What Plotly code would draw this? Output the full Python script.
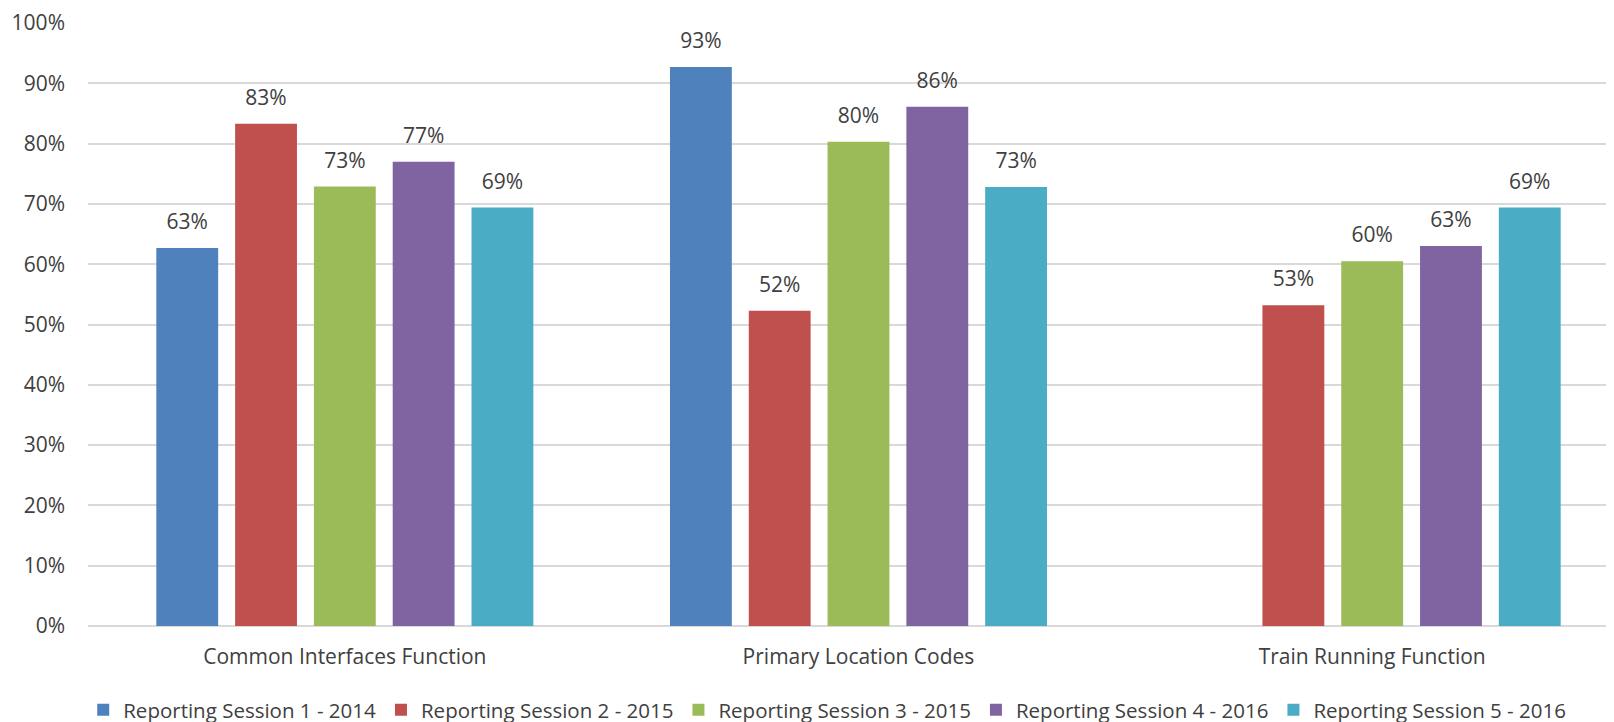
import plotly.graph_objects as go

categories = ["Common Interfaces Function", "Primary Location Codes", "Train Running Function"]
series_names = [
    "Reporting Session 1 - 2014",
    "Reporting Session 2 - 2015",
    "Reporting Session 3 - 2015",
    "Reporting Session 4 - 2016",
    "Reporting Session 5 - 2016",
]
session1 = [0.627, 0.927, None]
session2 = [0.833, 0.523, 0.532]
session3 = [0.729, 0.803, 0.605]
session4 = [0.770, 0.861, 0.630]
session5 = [0.694, 0.728, 0.694]
colors = ["#4F81BD", "#C0504D", "#9BBB59", "#8064A2", "#4BACC6"]
tick_vals = [i / 10 for i in range(11)]
tick_text = [f"{i*10}%" for i in range(11)]

FONT = "Open Sans, sans-serif"
TXT = "#404040"
all_series = [session1, session2, session3, session4, session5]

fig = go.Figure()
for i, (name, vals, col) in enumerate(zip(series_names, all_series, colors)):
    fig.add_trace(go.Bar(
        x=categories, y=vals, name=name, offsetgroup=str(i),
        marker=dict(color=col, line=dict(width=0)),
        hoverinfo="skip",
    ))
for i, vals in enumerate(all_series):
    fig.add_trace(go.Scatter(
        x=categories, y=vals, mode="markers+text", offsetgroup=str(i),
        marker=dict(size=20, opacity=0), showlegend=False,
        text=[None if v is None else f"{round(v*100)}%" for v in vals],
        textposition="top center", cliponaxis=False,
        textfont=dict(family=FONT, size=21, color=TXT),
    ))

fig.update_layout(
    width=1625, height=722,
    margin=dict(l=80, r=4, t=15, b=104, autoexpand=False),
    paper_bgcolor="white", plot_bgcolor="white",
    barmode="group", bargap=0.233, bargroupgap=0.215,
    scattermode="group", scattergap=0.233,
    font=dict(family=FONT, size=20, color=TXT),
    showlegend=True,
    legend=dict(orientation="h", x=0.4797, xanchor="center", xref="paper",
                y=0.0, yanchor="bottom", yref="container",
                font=dict(family=FONT, size=20.5, color=TXT), itemwidth=30,
                tracegroupgap=0, traceorder="normal"),
    xaxis=dict(showgrid=False, showline=False, ticks="", ticklabelstandoff=16,
               automargin=False, tickfont=dict(size=21, color=TXT)),
    yaxis=dict(range=[0, 1], tickvals=tick_vals, ticktext=tick_text,
               showgrid=True, gridcolor="#D9D9D9", gridwidth=1.5,
               zeroline=True, zerolinecolor="#D9D9D9", zerolinewidth=1.5,
               showline=False, ticks="", ticklabelstandoff=22, automargin=False,
               tickfont=dict(size=21, color=TXT)),
)
fig.write_html("out.html")
